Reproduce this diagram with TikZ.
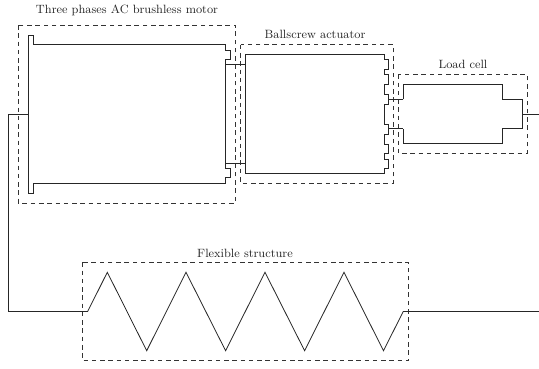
\documentclass[tikz,border=0pt]{standalone}
\tikzset{
  box/.style={draw=black!80,line width=0.4pt,dash pattern=on 3.4pt off 2.8pt},
  solidline/.style={draw=black!85,line width=0.6pt,line join=miter},
  lbl/.style={font=\fontsize{9}{10}\selectfont,text=black!85,inner sep=0pt,anchor=base},
}
\begin{document}
\begin{tikzpicture}[x=0.75pt,y=-0.75pt]
\useasboundingbox (0,0) rectangle (539,368);
\draw[box] (18.4,25) rectangle (235.7,202.8);
\draw[box] (240.7,44.7) rectangle (393.3,183);
\draw[box] (398.3,74.4) rectangle (527.3,153.4);
\draw[box] (82.7,262.3) rectangle (408.3,360.7);
\node[lbl] (t1) at (127,13.5) {Three phases AC brushless motor};
\node[lbl] (t2) at (315,38.5) {Ballscrew actuator};
\node[lbl] (t3) at (463,68.5) {Load cell};
\node[lbl] (t4) at (245,257.5) {Flexible structure};
% motor
\draw[solidline] (33.6,44.7) -- (225.7,44.7) -- (225.7,50) -- (230.7,50) -- (230.7,59.3) -- (225.7,59.3) -- (225.7,168.3) -- (230.7,168.3) -- (230.7,177.5) -- (225.7,177.5) -- (225.7,183.3) -- (33.6,183.3) -- (33.6,193) -- (28.6,193) -- (28.6,35) -- (33.6,35) -- cycle;
\draw[solidline,line width=0.9pt] (28.6,35) -- (28.6,193);
% motor to ballscrew
\draw[solidline] (225.7,64.3) -- (245.3,64.3);
\draw[solidline] (225.7,163.5) -- (245.3,163.5);
% ballscrew
\draw[solidline] (245.3,54.7) -- (384,54.7) -- (384,59.7) -- (388.5,59.7) -- (388.5,69) -- (384,69) -- (384,74.3) -- (388.5,74.3) -- (388.5,84) -- (384,84) -- (384,94) -- (388.5,94) -- (388.5,104) -- (384,104) -- (384,124) -- (388.5,124) -- (388.5,134) -- (384,134) -- (384,144) -- (388.5,144) -- (388.5,153.7) -- (384,153.7) -- (384,159) -- (388.5,159) -- (388.5,168.3) -- (384,168.3) -- (384,173.3) -- (245.3,173.3) -- cycle;
% ballscrew to load cell
\draw[solidline] (388.5,99.3) -- (403.3,99.3);
\draw[solidline] (388.5,128.8) -- (403.3,128.8);
% load cell
\draw[solidline] (403.3,99.3) -- (403.3,84.3) -- (502.3,84.3) -- (502.3,99.3) -- (522.3,99.3) -- (522.3,128.8) -- (502.3,128.8) -- (502.3,143.7) -- (403.3,143.7) -- (403.3,128.8);
\draw[solidline] (522.3,114.4) -- (539,114.4);
% wire and spring
\draw[solidline] (28.6,114.4) -- (8.4,114.4) -- (8.4,311.4) -- (87.7,311.4) -- (107.3,272.3) -- (146.7,350.7) -- (186,272.3) -- (225.6,350.7) -- (265,272.3) -- (304.6,350.7) -- (344,272.3) -- (383.5,350.7) -- (403.3,311.4) -- (539,311.4);
\end{tikzpicture}
\end{document}
